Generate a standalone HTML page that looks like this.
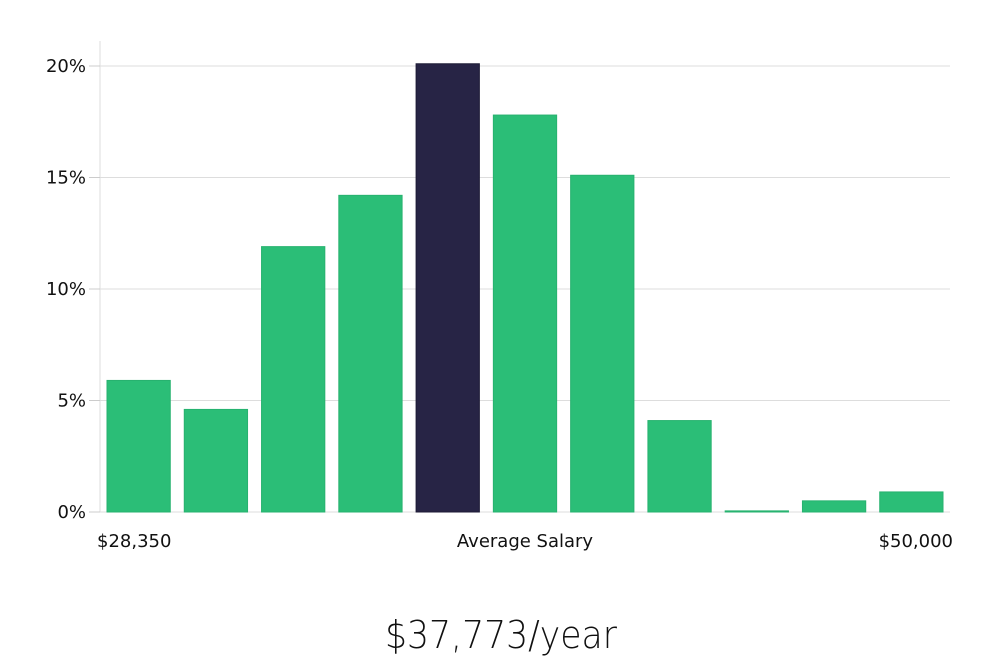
<!DOCTYPE html>
<html><head><meta charset="utf-8"><style>
html,body{margin:0;padding:0;background:#fff;width:1000px;height:660px;overflow:hidden}
svg text{font-family:"DejaVu Sans","Liberation Sans",sans-serif;fill:#111}
</style></head><body>
<svg id="chart" width="1000" height="660" xmlns="http://www.w3.org/2000/svg"></svg>
<script>
const categories = ["b1","b2","b3","b4","b5","b6","b7","b8","b9","b10","b11"];
const values = [5.9,4.6,11.9,14.2,20.1,17.8,15.1,4.1,0.05,0.5,0.9];
const highlightIndex = 4;
const yTicks = [0,5,10,15,20];
const yTickLabels = ["0%","5%","10%","15%","20%"];
const xLabels = ["$28,350","Average Salary","$50,000"];
const title = "$37,773/year";

const NS="http://www.w3.org/2000/svg";
const svg=document.getElementById('chart');
const X0=100,X1=950,Y0=512,PX=22.3;
const y=v=>Y0-v*PX;
const slot=(X1-X0)/categories.length;
const x=i=>X0+i*slot;
function mk(t,a){const e=document.createElementNS(NS,t);for(const k in a)e.setAttribute(k,a[k]);svg.appendChild(e);return e;}

const axis=mk('line',{x1:X0,y1:41,x2:X0,y2:Y0,stroke:'#ddd','stroke-width':1});


yTicks.forEach((t,i)=>{
  const g=mk('line',{x1:X0,y1:y(t),x2:X1,y2:y(t),stroke:'#ddd','stroke-width':1});
  
  
  const tk=mk('line',{x1:X0-11,y1:y(t),x2:X0,y2:y(t),stroke:'#ccc','stroke-width':1});
  
  
  const l=mk('text',{x:X0-14,y:y(t)+6,'text-anchor':'end','font-size':18});
  l.textContent=yTickLabels[i];
  
  
});
values.forEach((v,i)=>{
  const hi=i===highlightIndex;
  const r=mk('rect',{x:x(i)+7,y:y(v),width:slot-14,height:Math.max(v*PX,1),fill:hi?'#272445':'#2bbe77',stroke:hi?'#1c1a35':'#27b26f','stroke-width':1});
  
  
});
const xl=[[97,'start'],[525,'middle'],[953,'end']];
xLabels.forEach((s,i)=>{
  const t=mk('text',{x:xl[i][0],y:547,'text-anchor':xl[i][1],'font-size':18});
  t.textContent=s;
  
  
});
const tt=mk('text',{x:501,y:648,'text-anchor':'middle','font-size':38,textLength:232,lengthAdjust:'spacingAndGlyphs',style:'font-weight:300;font-family:"DejaVu Sans","Liberation Sans",sans-serif'});
tt.textContent=title;


</script>
</body></html>
